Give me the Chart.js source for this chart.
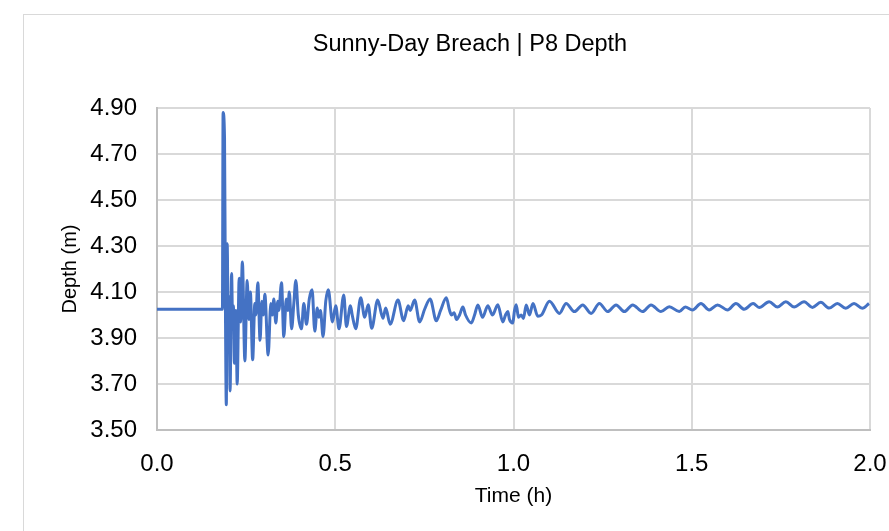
<!DOCTYPE html>
<html>
<head>
<meta charset="utf-8">
<script src="https://cdn.jsdelivr.net/npm/chart.js@4/dist/chart.umd.min.js"></script>
<style>
  html, body { margin: 0; padding: 0; background: #ffffff; }
  #c { display: block; }
</style>
</head>
<body>
<canvas id="c" width="889" height="531"></canvas>
<script>
const chartTitle = "Sunny-Day Breach | P8 Depth";
const xAxisTitle = "Time (h)";
const yAxisTitle = "Depth (m)";

const times = [
  0.0000, 0.1835, 0.1854, 0.1894, 0.1919, 0.1944, 0.1969, 0.1997, 0.2022, 0.2050,
  0.2092, 0.2123, 0.2143, 0.2171, 0.2213, 0.2249, 0.2305, 0.2342, 0.2395, 0.2465,
  0.2529, 0.2577, 0.2619, 0.2683, 0.2745, 0.2773, 0.2829, 0.2891, 0.2941, 0.2983,
  0.3025, 0.3118, 0.3193, 0.3235, 0.3277, 0.3333, 0.3389, 0.3417, 0.3493, 0.3557,
  0.3627, 0.3669, 0.3711, 0.3776, 0.3838, 0.3894, 0.3964, 0.4053, 0.4118, 0.4193,
  0.4272, 0.4350, 0.4426, 0.4496, 0.4538, 0.4585, 0.4658, 0.4734, 0.4804, 0.4922,
  0.5014, 0.5106, 0.5238, 0.5314, 0.5426, 0.5476, 0.5574, 0.5714, 0.5826, 0.5924,
  0.6022, 0.6190, 0.6339, 0.6415, 0.6541, 0.6759, 0.6919, 0.7045, 0.7101, 0.7227,
  0.7367, 0.7507, 0.7661, 0.7835, 0.7955, 0.8115, 0.8207, 0.8263, 0.8333, 0.8403,
  0.8487, 0.8580, 0.8655, 0.8815, 0.8908, 0.9000, 0.9132, 0.9280, 0.9412, 0.9560,
  0.9700, 0.9776, 0.9840, 0.9888, 0.9980, 1.0028, 1.0076, 1.0140, 1.0216, 1.0280,
  1.0356, 1.0448, 1.0546, 1.0681, 1.0784, 1.1008, 1.1289, 1.1476, 1.1709, 1.1941,
  1.2176, 1.2409, 1.2641, 1.2877, 1.3109, 1.3342, 1.3622, 1.3857, 1.4137, 1.4370,
  1.4650, 1.4818, 1.5022, 1.5258, 1.5490, 1.5723, 1.6003, 1.6238, 1.6471, 1.6723,
  1.6891, 1.7171, 1.7403, 1.7639, 1.7871, 1.8151, 1.8384, 1.8619, 1.8852, 1.9084,
  1.9319, 1.9552, 1.9784, 1.9972
];

const depths = [
  4.025, 4.025, 4.880, 4.770, 4.050, 3.610, 4.310, 3.950, 4.080, 3.670,
  4.180, 3.950, 4.040, 3.790, 4.020, 3.700, 4.160, 3.970, 4.230, 3.800,
  4.150, 3.980, 4.100, 3.805, 4.050, 4.000, 4.140, 3.890, 4.060, 4.000,
  4.090, 3.826, 4.050, 4.000, 4.070, 3.965, 4.060, 4.020, 4.140, 3.906,
  4.070, 4.020, 4.100, 3.940, 4.050, 4.150, 4.000, 3.940, 4.050, 3.960,
  4.070, 4.110, 3.930, 4.030, 3.990, 4.020, 3.906, 4.060, 4.110, 3.970,
  4.040, 3.940, 4.087, 3.950, 4.040, 4.000, 3.940, 4.075, 3.990, 4.045,
  3.942, 4.065, 3.986, 4.030, 3.960, 4.065, 3.975, 4.040, 4.020, 4.065,
  3.970, 4.025, 4.070, 3.975, 4.020, 4.075, 4.020, 4.000, 4.010, 3.980,
  4.000, 4.035, 4.000, 3.965, 4.000, 4.044, 3.990, 4.040, 4.000, 4.045,
  3.970, 4.000, 4.015, 3.980, 3.965, 4.020, 4.045, 3.990, 4.000, 3.985,
  4.044, 4.000, 4.050, 3.995, 4.000, 4.060, 4.007, 4.050, 4.015, 4.044,
  4.007, 4.050, 4.015, 4.044, 4.015, 4.044, 4.015, 4.044, 4.015, 4.036,
  4.015, 4.035, 4.022, 4.050, 4.022, 4.044, 4.022, 4.050, 4.025, 4.050,
  4.033, 4.058, 4.035, 4.058, 4.035, 4.058, 4.033, 4.055, 4.030, 4.050,
  4.029, 4.050, 4.029, 4.050
];

const xTickMin = 0, xTickMax = 2, xTickStep = 0.5;
const yTickMin = 3.5, yTickMax = 4.9, yTickStep = 0.2;

const points = times.map((t, i) => ({ x: t, y: depths[i] }));
const FONT = '"Liberation Sans", Arial, sans-serif';

const frameAndTitle = {
  id: 'frameAndTitle',
  beforeDraw(chart) {
    const ctx = chart.ctx;
    ctx.save();
    ctx.fillStyle = '#ffffff';
    ctx.fillRect(0, 0, chart.width, chart.height);
    ctx.strokeStyle = '#d9d9d9';
    ctx.lineWidth = 1;
    ctx.strokeRect(23.5, 14.5, 1000, 1000);
    ctx.restore();
  },
  afterDraw(chart) {
    const ctx = chart.ctx;
    ctx.save();
    ctx.fillStyle = '#000000';
    ctx.font = '23.5px ' + FONT;
    ctx.textAlign = 'center';
    ctx.textBaseline = 'middle';
    ctx.fillText(chartTitle, 470, 45);
    ctx.restore();
  }
};

new Chart(document.getElementById('c'), {
  type: 'line',
  data: {
    datasets: [{
      data: points,
      borderColor: '#4472C4',
      backgroundColor: '#4472C4',
      borderWidth: 3,
      pointRadius: 0,
      cubicInterpolationMode: 'monotone',
      fill: false
    }]
  },
  options: {
    responsive: false,
    animation: false,
    devicePixelRatio: 1,
    layout: { padding: { top: 108, right: 19, left: 0, bottom: 0 } },
    plugins: {
      legend: { display: false },
      title: { display: false },
      tooltip: { enabled: false }
    },
    scales: {
      x: {
        type: 'linear',
        min: xTickMin,
        max: xTickMax,
        ticks: {
          stepSize: xTickStep,
          color: '#000000',
          font: { family: FONT, size: 24 },
          padding: 20,
          maxRotation: 0,
          callback: v => Number(v).toFixed(1)
        },
        grid: { color: '#d9d9d9', lineWidth: 2, drawTicks: false },
        border: { display: true, color: '#bfbfbf', width: 2 },
        title: {
          display: true,
          text: xAxisTitle,
          color: '#000000',
          font: { family: FONT, size: 21 },
          padding: { top: 0, bottom: 22 }
        },
        afterFit(scale) {
          scale.height = 101;
          scale.paddingLeft = 0;
          scale.paddingRight = 0;
        }
      },
      y: {
        type: 'linear',
        min: yTickMin,
        max: yTickMax,
        ticks: {
          stepSize: yTickStep,
          color: '#000000',
          font: { family: FONT, size: 24 },
          padding: 20,
          callback: v => Number(v).toFixed(2)
        },
        grid: { color: '#d9d9d9', lineWidth: 2, drawTicks: false },
        border: { display: true, color: '#bfbfbf', width: 2 },
        title: {
          display: true,
          text: yAxisTitle,
          color: '#000000',
          font: { family: FONT, size: 20 },
          padding: { top: 58, bottom: 0 }
        },
        afterFit(scale) {
          scale.width = 157;
          scale.paddingTop = 0;
          scale.paddingBottom = 0;
        }
      }
    }
  },
  plugins: [frameAndTitle]
});
</script>
</body>
</html>
